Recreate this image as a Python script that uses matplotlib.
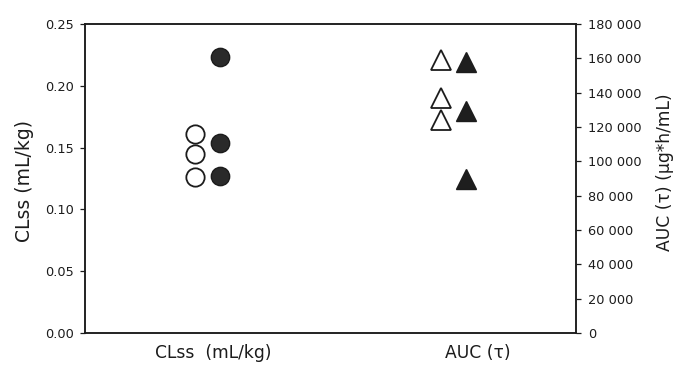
import matplotlib
matplotlib.use("Agg")
import matplotlib.pyplot as plt
from matplotlib.ticker import FuncFormatter

plt.rcParams['font.family'] = ['DejaVu Sans']

# Category labels on the x axis
categories = ["CLss  (mL/kg)", "AUC (\u03c4)"]

# Clearance at steady state (left axis), open vs filled groups
cl_open = [0.161, 0.145, 0.126]
cl_filled = [0.223, 0.1535, 0.127]

# AUC over the dosing interval (right axis)
auc_open = [159000, 137000, 124000]
auc_filled = [158000, 129500, 90000]

left_ticks = [0.00, 0.05, 0.10, 0.15, 0.20, 0.25]
right_ticks = [0, 20000, 40000, 60000, 80000, 100000, 120000, 140000, 160000, 180000]

fig = plt.figure(figsize=(6.75, 3.65), dpi=100)
ax = fig.add_axes([85/675, 32/365, 491/675, 309/365])
ax2 = ax.twinx()

dx = 0.051
ink = '#1c1c1c'

ax.plot([1 - dx] * len(cl_open), cl_open, linestyle='none', marker='o', ms=13.2,
        mfc='white', mec=ink, mew=1.3, zorder=3)
ax.plot([1 + dx] * len(cl_filled), cl_filled, linestyle='none', marker='o', ms=13.2,
        mfc='#2a2a2a', mec=ink, mew=1.0, zorder=3)

ax2.plot([2 - dx] * len(auc_open), auc_open, linestyle='none', marker='^', ms=14,
         mfc='white', mec=ink, mew=1.3, zorder=3)
ax2.plot([2 + dx] * len(auc_filled), auc_filled, linestyle='none', marker='^', ms=14,
         mfc='#1e1e1e', mec=ink, mew=1.0, zorder=3)

ax.set_xlim(0.5, 2.5)
ax.set_ylim(0, 0.25)
ax2.set_ylim(0, 180000)

ax.set_xticks([1.022, 2.102])
ax.set_xticklabels(categories, fontsize=12.3)
ax.tick_params(axis='x', length=0, pad=8, colors=ink)

ax.set_yticks(left_ticks)
ax.yaxis.set_major_formatter(FuncFormatter(lambda v, p: f"{v:.2f}"))
ax.tick_params(axis='y', direction='out', length=3.5, width=0.9, pad=4.5,
               labelsize=9.3, colors=ink)

ax2.set_yticks(right_ticks)
ax2.yaxis.set_major_formatter(
    FuncFormatter(lambda v, p: f"{int(v):,}".replace(",", " ")))
ax2.tick_params(axis='y', direction='out', length=3.5, width=0.9, pad=5,
                labelsize=9.3, colors=ink)

for a in (ax, ax2):
    for s in a.spines.values():
        s.set_linewidth(1.1)
        s.set_color(ink)

fig.text(24/675, 1 - 181/365, "CLss (mL/kg)", rotation=90, ha='center',
         va='center', fontsize=13.5, color=ink)
fig.text(665/675, 1 - 172/365, "AUC (\u03c4) (\u00b5g*h/mL)", rotation=90,
         ha='center', va='center', fontsize=12.3, color=ink)

fig.savefig("out.png", dpi=100)
